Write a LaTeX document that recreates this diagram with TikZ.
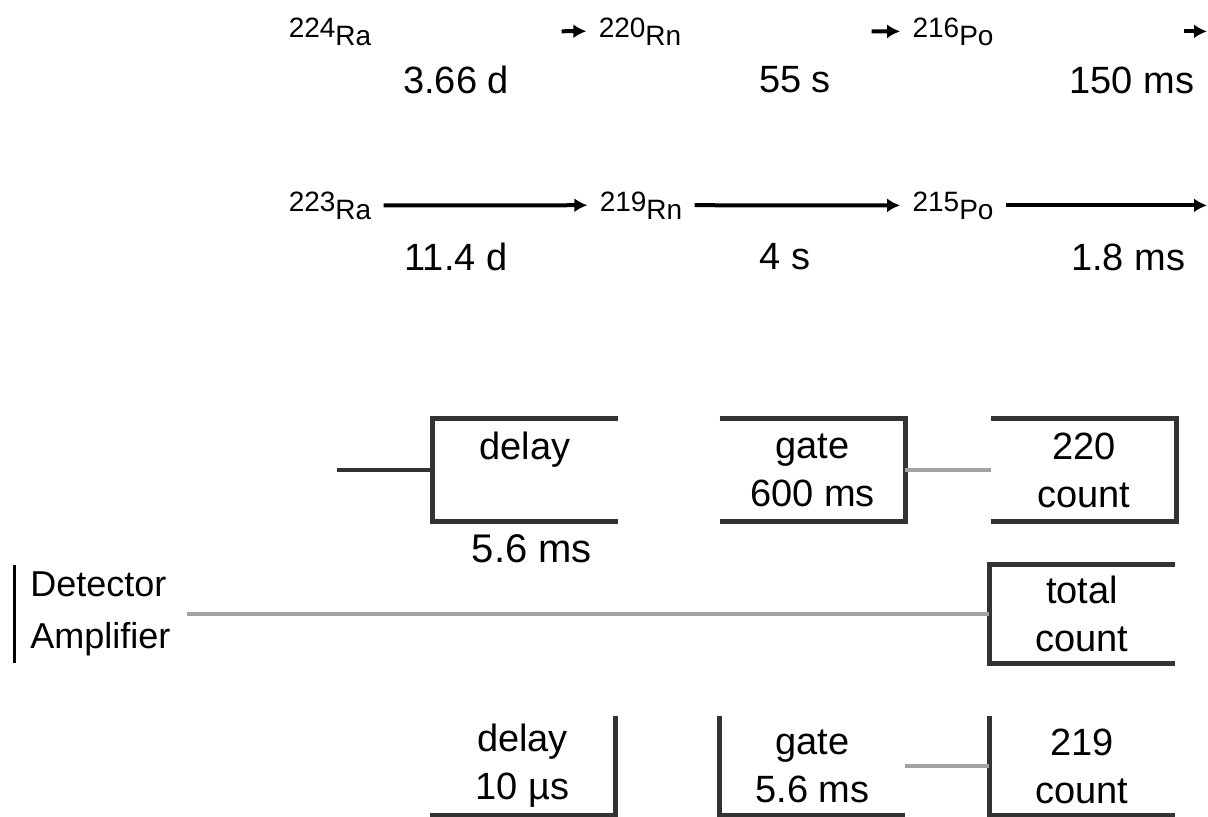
\documentclass[tikz,border=0pt]{standalone}
\usepackage{fontspec}
\setmainfont{Liberation Sans}
\usetikzlibrary{arrows.meta}
\definecolor{boxgray}{HTML}{333333}
\definecolor{wiregray}{HTML}{A3A3A3}
\newcommand{\iso}[2]{\raisebox{4pt}{#1}#2}

\begin{document}
\begin{tikzpicture}[x=0.5pt,y=-0.5pt]
    \tikzstyle{nuclide}=[font=\fontsize{14}{16}\selectfont,inner sep=6pt,anchor=base]
    \tikzstyle{halflife}=[font=\fontsize{19}{22}\selectfont]
    \tikzstyle{decay}=[line width=2pt,-{Latex[length=6.5pt,width=7pt]}]
    \tikzstyle{tiponly}=[decay,shorten <=89pt]
    \tikzstyle{unit}=[rectangle,inner sep=0pt,minimum width=92.5pt,minimum height=51.5pt,align=center,font=\fontsize{19}{24}\selectfont]
    \tikzstyle{frame}=[line width=2.5pt,draw=boxgray]
    \tikzstyle{wire}=[line width=2pt,draw=wiregray]
    \useasboundingbox (0,0) rectangle (1208,816);
    % thorium chain
    \node (ra224)[nuclide] at (330,45) {\iso{224}{Ra}};
    \node (rn220)[nuclide] at (640,45) {\iso{220}{Rn}};
    \node (po216)[nuclide] at (953,45) {\iso{216}{Po}};
    \coordinate (end1) at (1207,28);
    \node (t224)[halflife] at (456,80) {3.66 d};
    \node (t220)[halflife] at (795,80) {55 s};
    \node (t216)[halflife] at (1132,80) {150 ms};
    \draw [tiponly] (ra224.east) -- (rn220.west);
    \draw [tiponly] (rn220.east) -- (po216.west);
    \draw [tiponly] (po216.east) -- (po216.east -| end1);
    % actinium chain
    \node (ra223)[nuclide] at (330,219) {\iso{223}{Ra}};
    \node (rn219)[nuclide] at (641,219) {\iso{219}{Rn}};
    \node (po215)[nuclide] at (953,219) {\iso{215}{Po}};
    \coordinate (end2) at (1207,203);
    \node (t223)[halflife] at (456,257) {11.4 d};
    \node (t219)[halflife] at (785,257) {4 s};
    \node (t215)[halflife] at (1128,257) {1.8 ms};
    \draw [decay] (ra223.east) -- (rn219.west);
    \draw [decay] (rn219.east) -- (po215.west);
    \draw [decay] (po215.east) -- (po215.east -| end2);
    % counting electronics
    \node (delayA)[unit] at (525,470) {delay\\\mbox{}};
    \node (gateA)[unit] at (812.5,470) {gate\\600 ms};
    \node (countA)[unit] at (1084,470) {220\\count};
    \node (wait)[font=\fontsize{20}{24}\selectfont] at (532,549) {5.6 ms};
    \node (total)[unit,minimum height=49.5pt] at (1082,614) {total\\count};
    \node (det)[anchor=west,align=left,inner xsep=8pt,font=\fontsize{18}{26}\selectfont] at (14,614) {Detector\\Amplifier};
    \node (delayB)[unit,minimum height=49.5pt] at (522.5,766) {delay\\10 µs};
    \node (gateB)[unit,minimum height=49.5pt] at (812.5,766) {gate\\5.6 ms};
    \node (countB)[unit,minimum height=49.5pt] at (1082,766) {219\\count};
    \coordinate (in) at (337,470);
    \draw [frame] (delayA.north east) -- (delayA.north west) -- (delayA.south west) -- (delayA.south east);
    \draw [frame] (gateA.north west) -- (gateA.north east) -- (gateA.south east) -- (gateA.south west);
    \draw [frame] (countA.north west) -- (countA.north east) -- (countA.south east) -- (countA.south west);
    \draw [frame] (total.north east) -- (total.north west) -- (total.south west) -- (total.south east);
    \draw [frame] (delayB.north east) -- (delayB.south east) -- (delayB.south west);
    \draw [frame] (gateB.north west) -- (gateB.south west) -- (gateB.south east);
    \draw [frame] (countB.north west) -- (countB.south west) -- (countB.south east);
    \draw [line width=1.5pt] (det.north west) -- (det.south west);
    \draw [frame,line width=2pt] (in) -- (delayA);
    \draw [wire] (gateA) -- (countA);
    \draw [wire] (det) -- (total);
    \draw [wire] (gateB) -- (countB);
\end{tikzpicture}
\end{document}
